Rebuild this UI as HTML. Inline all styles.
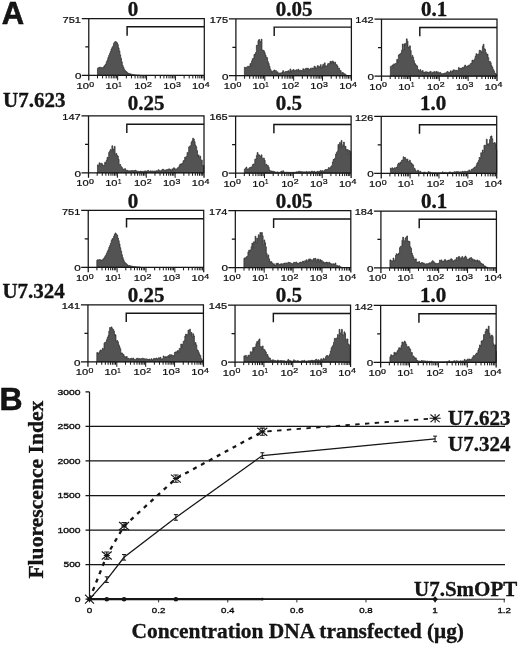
<!DOCTYPE html>
<html><head><meta charset="utf-8"><title>Figure</title>
<style>html,body{margin:0;padding:0;background:#fff}svg{display:block}text{fill:#141414}</style>
</head><body>
<svg width="520" height="646" viewBox="0 0 520 646">
<defs><filter id="soft" x="0" y="0" width="520" height="646" filterUnits="userSpaceOnUse"><feGaussianBlur stdDeviation="0.4"/></filter></defs>
<rect width="520" height="646" fill="#fff"/>
<g filter="url(#soft)">
<path d="M97.48,75.4V68.32H98.28V67.71H99.08V67.28H99.88V67.31H100.68V67.52H101.48V67.85H102.28V67.77H103.08V67.16H103.88V66.1H104.68V65.14H105.48V64.05H106.28V61.79H107.08V59.98H107.88V57.48H108.68V55.38H109.48V53.49H110.28V51.52H111.08V48.94H111.88V47.42H112.68V46.15H113.48V43.43H114.28V42.14H115.08V41.53H115.88V41.99H116.68V42.75H117.48V44.42H118.28V47.85H119.08V50.93H119.88V54.76H120.68V58.24H121.48V61.76H122.28V65.28H123.08V67.28H123.88V69.17H124.68V70.59H125.48V71.36H126.28V71.85H127.08V72.87H127.88V73.26H128.68V73.59H129.48V73.65H130.28V74.01H131.08V74.19H131.88V74.44H132.68V74.57H133.48V74.77H134.28V74.84H135.08V74.92H135.88V75H136.68V75.08H137.48V75.16H138.28V75.24H139.08V75.32H139.88V75.4H140.68V75.4Z" fill="#525252" stroke="#2a2a2a" stroke-width="0.7" stroke-linejoin="round"/>
<path d="M81.8,18.5H204.3V80.4M88.8,18.5V80.4M81.8,75.4H204.3M85.3,46.95H88.8" fill="none" stroke="#141414" stroke-width="1.25"/>
<path d="M127.1,35.7V26.8H204.3" fill="none" stroke="#141414" stroke-width="1.45"/>
<path d="M97.49,75.4v3M102.58,75.4v3M106.18,75.4v3M108.98,75.4v3M111.27,75.4v3M113.2,75.4v3M114.88,75.4v3M116.35,75.4v3M117.67,75.4v5M126.37,75.4v3M131.45,75.4v3M135.06,75.4v3M137.86,75.4v3M140.14,75.4v3M142.08,75.4v3M143.75,75.4v3M145.23,75.4v3M146.55,75.4v5M155.24,75.4v3M160.33,75.4v3M163.93,75.4v3M166.73,75.4v3M169.02,75.4v3M170.95,75.4v3M172.63,75.4v3M174.1,75.4v3M175.43,75.4v5M184.12,75.4v3M189.2,75.4v3M192.81,75.4v3M195.61,75.4v3M197.89,75.4v3M199.83,75.4v3M201.5,75.4v3M202.98,75.4v3" stroke="#141414" stroke-width="1" fill="none"/>
<text x="89" y="88.95" font-family='"Liberation Sans", sans-serif' font-size="9.8" text-anchor="end" textLength="12.4" lengthAdjust="spacingAndGlyphs" fill="#000" stroke="#000" stroke-width="0.22">10</text>
<text x="89.3" y="86.7" font-family='"Liberation Sans", sans-serif' font-size="7.0" text-anchor="start" textLength="4.9" lengthAdjust="spacingAndGlyphs" fill="#000" stroke="#000" stroke-width="0.22">0</text>
<text x="117.88" y="88.95" font-family='"Liberation Sans", sans-serif' font-size="9.8" text-anchor="end" textLength="12.4" lengthAdjust="spacingAndGlyphs" fill="#000" stroke="#000" stroke-width="0.22">10</text>
<text x="118.17" y="86.7" font-family='"Liberation Sans", sans-serif' font-size="7.0" text-anchor="start" textLength="3.4" lengthAdjust="spacingAndGlyphs" fill="#000" stroke="#000" stroke-width="0.22">1</text>
<text x="146.75" y="88.95" font-family='"Liberation Sans", sans-serif' font-size="9.8" text-anchor="end" textLength="12.4" lengthAdjust="spacingAndGlyphs" fill="#000" stroke="#000" stroke-width="0.22">10</text>
<text x="147.05" y="86.7" font-family='"Liberation Sans", sans-serif' font-size="7.0" text-anchor="start" textLength="4.9" lengthAdjust="spacingAndGlyphs" fill="#000" stroke="#000" stroke-width="0.22">2</text>
<text x="175.62" y="88.95" font-family='"Liberation Sans", sans-serif' font-size="9.8" text-anchor="end" textLength="12.4" lengthAdjust="spacingAndGlyphs" fill="#000" stroke="#000" stroke-width="0.22">10</text>
<text x="175.93" y="86.7" font-family='"Liberation Sans", sans-serif' font-size="7.0" text-anchor="start" textLength="4.9" lengthAdjust="spacingAndGlyphs" fill="#000" stroke="#000" stroke-width="0.22">3</text>
<text x="204.5" y="88.95" font-family='"Liberation Sans", sans-serif' font-size="9.8" text-anchor="end" textLength="12.4" lengthAdjust="spacingAndGlyphs" fill="#000" stroke="#000" stroke-width="0.22">10</text>
<text x="204.8" y="86.7" font-family='"Liberation Sans", sans-serif' font-size="7.0" text-anchor="start" textLength="4.9" lengthAdjust="spacingAndGlyphs" fill="#000" stroke="#000" stroke-width="0.22">4</text>
<text x="80.9" y="22.7" font-family='"Liberation Sans", sans-serif' font-size="9.6" text-anchor="end" textLength="18.3" lengthAdjust="spacingAndGlyphs" fill="#000" stroke="#000" stroke-width="0.22">751</text>
<text x="81.4" y="79.2" font-family='"Liberation Sans", sans-serif' font-size="9.8" text-anchor="end" textLength="6.5" lengthAdjust="spacingAndGlyphs" fill="#000" stroke="#000" stroke-width="0.22">0</text>
<text x="127.8" y="15.85" font-family='"Liberation Serif", serif' font-weight="bold" font-size="21" stroke="#000" stroke-width="0.3" fill="#000">0</text>
<path d="M244.37,75.72V67.23H245.17V67.72H245.97V67.24H246.77V67.24H247.57V66.3H248.37V66.33H249.17V66.63H249.97V63.51H250.77V65.93H251.57V60.87H252.37V58.67H253.17V58.22H253.97V54.55H254.77V54.04H255.57V52.44H256.37V45.21H257.17V45.45H257.97V40.61H258.77V39.51H259.57V41.15H260.37V42.48H261.17V39.16H261.97V49.97H262.77V50.34H263.57V50.77H264.37V52.6H265.17V55H265.97V57.15H266.77V57.71H267.57V61.57H268.37V63.52H269.17V66.21H269.97V69.11H270.77V70.77H271.57V73.05H272.37V71.28H273.17V70.86H273.97V69.96H274.77V71.38H275.57V70.58H276.37V72.85H277.17V71.83H277.97V73.25H278.77V73.16H279.57V73.06H280.37V72.99H281.17V73.14H281.97V72.08H282.77V70.66H283.57V72.38H284.37V72.19H285.17V71.62H285.97V71.56H286.77V71.39H287.57V71.05H288.37V70.73H289.17V72.09H289.97V68.96H290.77V71.93H291.57V70.59H292.37V70.3H293.17V69.44H293.97V70.97H294.77V70.41H295.57V70.37H296.37V69.71H297.17V70.8H297.97V69.19H298.77V71.49H299.57V70.2H300.37V70.31H301.17V70.62H301.97V70.73H302.77V68.73H303.57V69.29H304.37V71.46H305.17V68.67H305.97V68.25H306.77V70.17H307.57V68.08H308.37V69.99H309.17V69.47H309.97V68.56H310.77V68.14H311.57V68.13H312.37V68.04H313.17V68.69H313.97V66.22H314.77V66.75H315.57V67.88H316.37V67.99H317.17V65.69H317.97V65.91H318.77V67.02H319.57V66.7H320.37V64.68H321.17V68.04H321.97V66.52H322.77V64.34H323.57V66.8H324.37V62.86H325.17V65.96H325.97V66.47H326.77V65.54H327.57V63.77H328.37V63.44H329.17V63.85H329.97V61.31H330.77V63.1H331.57V61.51H332.37V60.95H333.17V62.07H333.97V64.23H334.77V62.08H335.57V64.41H336.37V64.72H337.17V65.95H337.97V68.69H338.77V68.08H339.57V70.59H340.37V70.61H341.17V73.15H341.97V72.49H342.77V72.77H343.57V74.31H344.37V73.69H345.17V74.76H345.97V75.09H346.77V75.48H347.57V75.72H348.37V75.72Z" fill="#525252" stroke="#2a2a2a" stroke-width="0.7" stroke-linejoin="round"/>
<path d="M228.9,18.82H351.4V80.72M235.9,18.82V80.72M228.9,75.72H351.4M232.4,47.27H235.9" fill="none" stroke="#141414" stroke-width="1.25"/>
<path d="M274.2,36.02V27.12H351.4" fill="none" stroke="#141414" stroke-width="1.45"/>
<path d="M244.59,75.72v3M249.68,75.72v3M253.28,75.72v3M256.08,75.72v3M258.37,75.72v3M260.3,75.72v3M261.98,75.72v3M263.45,75.72v3M264.77,75.72v5M273.47,75.72v3M278.55,75.72v3M282.16,75.72v3M284.96,75.72v3M287.24,75.72v3M289.18,75.72v3M290.85,75.72v3M292.33,75.72v3M293.65,75.72v5M302.34,75.72v3M307.43,75.72v3M311.03,75.72v3M313.83,75.72v3M316.12,75.72v3M318.05,75.72v3M319.73,75.72v3M321.2,75.72v3M322.52,75.72v5M331.22,75.72v3M336.3,75.72v3M339.91,75.72v3M342.71,75.72v3M344.99,75.72v3M346.93,75.72v3M348.6,75.72v3M350.08,75.72v3" stroke="#141414" stroke-width="1" fill="none"/>
<text x="236.1" y="89.27" font-family='"Liberation Sans", sans-serif' font-size="9.8" text-anchor="end" textLength="12.4" lengthAdjust="spacingAndGlyphs" fill="#000" stroke="#000" stroke-width="0.22">10</text>
<text x="236.4" y="87.02" font-family='"Liberation Sans", sans-serif' font-size="7.0" text-anchor="start" textLength="4.9" lengthAdjust="spacingAndGlyphs" fill="#000" stroke="#000" stroke-width="0.22">0</text>
<text x="264.97" y="89.27" font-family='"Liberation Sans", sans-serif' font-size="9.8" text-anchor="end" textLength="12.4" lengthAdjust="spacingAndGlyphs" fill="#000" stroke="#000" stroke-width="0.22">10</text>
<text x="265.27" y="87.02" font-family='"Liberation Sans", sans-serif' font-size="7.0" text-anchor="start" textLength="3.4" lengthAdjust="spacingAndGlyphs" fill="#000" stroke="#000" stroke-width="0.22">1</text>
<text x="293.85" y="89.27" font-family='"Liberation Sans", sans-serif' font-size="9.8" text-anchor="end" textLength="12.4" lengthAdjust="spacingAndGlyphs" fill="#000" stroke="#000" stroke-width="0.22">10</text>
<text x="294.15" y="87.02" font-family='"Liberation Sans", sans-serif' font-size="7.0" text-anchor="start" textLength="4.9" lengthAdjust="spacingAndGlyphs" fill="#000" stroke="#000" stroke-width="0.22">2</text>
<text x="322.72" y="89.27" font-family='"Liberation Sans", sans-serif' font-size="9.8" text-anchor="end" textLength="12.4" lengthAdjust="spacingAndGlyphs" fill="#000" stroke="#000" stroke-width="0.22">10</text>
<text x="323.02" y="87.02" font-family='"Liberation Sans", sans-serif' font-size="7.0" text-anchor="start" textLength="4.9" lengthAdjust="spacingAndGlyphs" fill="#000" stroke="#000" stroke-width="0.22">3</text>
<text x="351.6" y="89.27" font-family='"Liberation Sans", sans-serif' font-size="9.8" text-anchor="end" textLength="12.4" lengthAdjust="spacingAndGlyphs" fill="#000" stroke="#000" stroke-width="0.22">10</text>
<text x="351.9" y="87.02" font-family='"Liberation Sans", sans-serif' font-size="7.0" text-anchor="start" textLength="4.9" lengthAdjust="spacingAndGlyphs" fill="#000" stroke="#000" stroke-width="0.22">4</text>
<text x="228" y="23.02" font-family='"Liberation Sans", sans-serif' font-size="9.6" text-anchor="end" textLength="18.3" lengthAdjust="spacingAndGlyphs" fill="#000" stroke="#000" stroke-width="0.22">175</text>
<text x="228.5" y="79.52" font-family='"Liberation Sans", sans-serif' font-size="9.8" text-anchor="end" textLength="6.5" lengthAdjust="spacingAndGlyphs" fill="#000" stroke="#000" stroke-width="0.22">0</text>
<text x="275.7" y="15.85" font-family='"Liberation Serif", serif' font-weight="bold" font-size="21" stroke="#000" stroke-width="0.3" fill="#000">0.05</text>
<path d="M390.37,76.04V66.41H391.17V66.48H391.97V64.97H392.77V67.28H393.57V63.91H394.37V64.19H395.17V63.52H395.97V63.54H396.77V59.37H397.57V62.05H398.37V55.1H399.17V54.33H399.97V53.92H400.77V52.89H401.57V50.2H402.37V44.03H403.17V49.77H403.97V43.81H404.77V45.51H405.57V43.27H406.37V38.83H407.17V41.24H407.97V47.09H408.77V48.23H409.57V45.84H410.37V50.55H411.17V57.74H411.97V55.39H412.77V57.3H413.57V60.5H414.37V63.14H415.17V64.26H415.97V65.49H416.77V65.94H417.57V69.33H418.37V69.97H419.17V71.77H419.97V69.6H420.77V71.24H421.57V72.29H422.37V70.52H423.17V72.61H423.97V72.13H424.77V73.09H425.57V71.64H426.37V72.21H427.17V72.02H427.97V72.81H428.77V72.33H429.57V71.84H430.37V71.41H431.17V73.21H431.97V72.69H432.77V71.88H433.57V72.42H434.37V71.61H435.17V73.14H435.97V71.51H436.77V73.45H437.57V71.83H438.37V72.79H439.17V72.73H439.97V72.46H440.77V73.47H441.57V73.73H442.37V73.69H443.17V73.6H443.97V73.19H444.77V73.06H445.57V73.05H446.37V72.17H447.17V71.52H447.97V72.16H448.77V72.84H449.57V72.22H450.37V70.87H451.17V72.76H451.97V71.11H452.77V70.54H453.57V69.73H454.37V71.15H455.17V70.4H455.97V70.19H456.77V70.76H457.57V70.56H458.37V67.59H459.17V68.43H459.97V68.22H460.77V69.23H461.57V68.06H462.37V67.37H463.17V67.98H463.97V66.45H464.77V65.03H465.57V67.44H466.37V66.54H467.17V65.9H467.97V66.08H468.77V64.91H469.57V65.13H470.37V63.6H471.17V63.19H471.97V60.11H472.77V60.4H473.57V60.86H474.37V58.91H475.17V56.24H475.97V53.71H476.77V58.38H477.57V54.34H478.37V53.92H479.17V50.27H479.97V50.43H480.77V51.14H481.57V52.87H482.37V46.38H483.17V44.2H483.97V48.68H484.77V49.35H485.57V52.52H486.37V54.48H487.17V54.09H487.97V57.71H488.77V61.69H489.57V61.35H490.37V62.63H491.17V65.5H491.97V67.08H492.77V69.23H493.57V70.75H494.37V73.16H495.17V73.35H495.97V74.65H496.77V76.04Z" fill="#525252" stroke="#2a2a2a" stroke-width="0.7" stroke-linejoin="round"/>
<path d="M374.5,19.14H497V81.04M381.5,19.14V81.04M374.5,76.04H497M378,47.59H381.5" fill="none" stroke="#141414" stroke-width="1.25"/>
<path d="M419.8,36.34V27.44H497" fill="none" stroke="#141414" stroke-width="1.45"/>
<path d="M390.19,76.04v3M395.28,76.04v3M398.88,76.04v3M401.68,76.04v3M403.97,76.04v3M405.9,76.04v3M407.58,76.04v3M409.05,76.04v3M410.38,76.04v5M419.07,76.04v3M424.15,76.04v3M427.76,76.04v3M430.56,76.04v3M432.84,76.04v3M434.78,76.04v3M436.45,76.04v3M437.93,76.04v3M439.25,76.04v5M447.94,76.04v3M453.03,76.04v3M456.63,76.04v3M459.43,76.04v3M461.72,76.04v3M463.65,76.04v3M465.33,76.04v3M466.8,76.04v3M468.12,76.04v5M476.82,76.04v3M481.9,76.04v3M485.51,76.04v3M488.31,76.04v3M490.59,76.04v3M492.53,76.04v3M494.2,76.04v3M495.68,76.04v3" stroke="#141414" stroke-width="1" fill="none"/>
<text x="381.7" y="89.59" font-family='"Liberation Sans", sans-serif' font-size="9.8" text-anchor="end" textLength="12.4" lengthAdjust="spacingAndGlyphs" fill="#000" stroke="#000" stroke-width="0.22">10</text>
<text x="382" y="87.34" font-family='"Liberation Sans", sans-serif' font-size="7.0" text-anchor="start" textLength="4.9" lengthAdjust="spacingAndGlyphs" fill="#000" stroke="#000" stroke-width="0.22">0</text>
<text x="410.57" y="89.59" font-family='"Liberation Sans", sans-serif' font-size="9.8" text-anchor="end" textLength="12.4" lengthAdjust="spacingAndGlyphs" fill="#000" stroke="#000" stroke-width="0.22">10</text>
<text x="410.88" y="87.34" font-family='"Liberation Sans", sans-serif' font-size="7.0" text-anchor="start" textLength="3.4" lengthAdjust="spacingAndGlyphs" fill="#000" stroke="#000" stroke-width="0.22">1</text>
<text x="439.45" y="89.59" font-family='"Liberation Sans", sans-serif' font-size="9.8" text-anchor="end" textLength="12.4" lengthAdjust="spacingAndGlyphs" fill="#000" stroke="#000" stroke-width="0.22">10</text>
<text x="439.75" y="87.34" font-family='"Liberation Sans", sans-serif' font-size="7.0" text-anchor="start" textLength="4.9" lengthAdjust="spacingAndGlyphs" fill="#000" stroke="#000" stroke-width="0.22">2</text>
<text x="468.32" y="89.59" font-family='"Liberation Sans", sans-serif' font-size="9.8" text-anchor="end" textLength="12.4" lengthAdjust="spacingAndGlyphs" fill="#000" stroke="#000" stroke-width="0.22">10</text>
<text x="468.62" y="87.34" font-family='"Liberation Sans", sans-serif' font-size="7.0" text-anchor="start" textLength="4.9" lengthAdjust="spacingAndGlyphs" fill="#000" stroke="#000" stroke-width="0.22">3</text>
<text x="497.2" y="89.59" font-family='"Liberation Sans", sans-serif' font-size="9.8" text-anchor="end" textLength="12.4" lengthAdjust="spacingAndGlyphs" fill="#000" stroke="#000" stroke-width="0.22">10</text>
<text x="497.5" y="87.34" font-family='"Liberation Sans", sans-serif' font-size="7.0" text-anchor="start" textLength="4.9" lengthAdjust="spacingAndGlyphs" fill="#000" stroke="#000" stroke-width="0.22">4</text>
<text x="373.6" y="23.34" font-family='"Liberation Sans", sans-serif' font-size="9.6" text-anchor="end" textLength="18.3" lengthAdjust="spacingAndGlyphs" fill="#000" stroke="#000" stroke-width="0.22">142</text>
<text x="374.1" y="79.84" font-family='"Liberation Sans", sans-serif' font-size="9.8" text-anchor="end" textLength="6.5" lengthAdjust="spacingAndGlyphs" fill="#000" stroke="#000" stroke-width="0.22">0</text>
<text x="421" y="15.85" font-family='"Liberation Serif", serif' font-weight="bold" font-size="21" stroke="#000" stroke-width="0.3" fill="#000">0.1</text>
<path d="M97.48,172.75V164.85H98.28V165.95H99.08V162.81H99.88V165.65H100.68V163.27H101.48V163.44H102.28V164.79H103.08V165.38H103.88V165.23H104.68V162.24H105.48V163.07H106.28V160.2H107.08V157.35H107.88V158.03H108.68V152.46H109.48V151.13H110.28V149.4H111.08V150.69H111.88V145.7H112.68V148.88H113.48V152.45H114.28V146.39H115.08V154.98H115.88V153.39H116.68V155.16H117.48V156.05H118.28V159.36H119.08V164.64H119.88V164.39H120.68V166.5H121.48V167.24H122.28V168.68H123.08V169.29H123.88V169.87H124.68V168.59H125.48V169.93H126.28V170.61H127.08V170.34H127.88V170.95H128.68V170.8H129.48V171.23H130.28V170.64H131.08V170.78H131.88V170.46H132.68V170.64H133.48V171.12H134.28V170.56H135.08V170.25H135.88V170.86H136.68V171.31H137.48V171.32H138.28V171.44H139.08V171.72H139.88V171.08H140.68V171.33H141.48V171.35H142.28V171.43H143.08V171.4H143.88V171.32H144.68V170.88H145.48V171.11H146.28V171.34H147.08V170.87H147.88V170.46H148.68V171.82H149.48V171.49H150.28V170.78H151.08V171.49H151.88V170.94H152.68V171.28H153.48V171.13H154.28V171.09H155.08V171.3H155.88V170.64H156.68V171.31H157.48V170.72H158.28V169.68H159.08V170.67H159.88V170.71H160.68V171.3H161.48V170.07H162.28V169.29H163.08V169.38H163.88V170.67H164.68V169.93H165.48V170.97H166.28V169.63H167.08V169.6H167.88V169.15H168.68V168.92H169.48V169.07H170.28V169.82H171.08V170.67H171.88V168.86H172.68V169.92H173.48V167.8H174.28V168.28H175.08V169.31H175.88V169.18H176.68V168.69H177.48V167.76H178.28V167.14H179.08V165.64H179.88V163.97H180.68V164.57H181.48V163.69H182.28V163.1H183.08V160.82H183.88V160.28H184.68V157.13H185.48V159.19H186.28V156.19H187.08V152.44H187.88V152.41H188.68V146.9H189.48V146.24H190.28V145.76H191.08V142.14H191.88V140.82H192.68V138.23H193.48V139.08H194.28V141.63H195.08V145H195.88V146.71H196.68V150.56H197.48V155.82H198.28V154.93H199.08V157.94H199.88V156.18H200.68V160.16H201.48V159.98H202.28V165.49H203.08V165.41H203.88V172.75Z" fill="#525252" stroke="#2a2a2a" stroke-width="0.7" stroke-linejoin="round"/>
<path d="M81.51,115.85H204.01V177.75M88.51,115.85V177.75M81.51,172.75H204.01M85.01,144.3H88.51" fill="none" stroke="#141414" stroke-width="1.25"/>
<path d="M126.81,133.05V124.15H204.01" fill="none" stroke="#141414" stroke-width="1.45"/>
<path d="M97.2,172.75v3M102.28,172.75v3M105.89,172.75v3M108.69,172.75v3M110.98,172.75v3M112.91,172.75v3M114.58,172.75v3M116.06,172.75v3M117.38,172.75v5M126.08,172.75v3M131.16,172.75v3M134.77,172.75v3M137.57,172.75v3M139.85,172.75v3M141.79,172.75v3M143.46,172.75v3M144.94,172.75v3M146.26,172.75v5M154.95,172.75v3M160.03,172.75v3M163.64,172.75v3M166.44,172.75v3M168.73,172.75v3M170.66,172.75v3M172.33,172.75v3M173.81,172.75v3M175.13,172.75v5M183.83,172.75v3M188.91,172.75v3M192.52,172.75v3M195.32,172.75v3M197.6,172.75v3M199.54,172.75v3M201.21,172.75v3M202.69,172.75v3" stroke="#141414" stroke-width="1" fill="none"/>
<text x="88.71" y="186.3" font-family='"Liberation Sans", sans-serif' font-size="9.8" text-anchor="end" textLength="12.4" lengthAdjust="spacingAndGlyphs" fill="#000" stroke="#000" stroke-width="0.22">10</text>
<text x="89.01" y="184.05" font-family='"Liberation Sans", sans-serif' font-size="7.0" text-anchor="start" textLength="4.9" lengthAdjust="spacingAndGlyphs" fill="#000" stroke="#000" stroke-width="0.22">0</text>
<text x="117.58" y="186.3" font-family='"Liberation Sans", sans-serif' font-size="9.8" text-anchor="end" textLength="12.4" lengthAdjust="spacingAndGlyphs" fill="#000" stroke="#000" stroke-width="0.22">10</text>
<text x="117.88" y="184.05" font-family='"Liberation Sans", sans-serif' font-size="7.0" text-anchor="start" textLength="3.4" lengthAdjust="spacingAndGlyphs" fill="#000" stroke="#000" stroke-width="0.22">1</text>
<text x="146.46" y="186.3" font-family='"Liberation Sans", sans-serif' font-size="9.8" text-anchor="end" textLength="12.4" lengthAdjust="spacingAndGlyphs" fill="#000" stroke="#000" stroke-width="0.22">10</text>
<text x="146.76" y="184.05" font-family='"Liberation Sans", sans-serif' font-size="7.0" text-anchor="start" textLength="4.9" lengthAdjust="spacingAndGlyphs" fill="#000" stroke="#000" stroke-width="0.22">2</text>
<text x="175.33" y="186.3" font-family='"Liberation Sans", sans-serif' font-size="9.8" text-anchor="end" textLength="12.4" lengthAdjust="spacingAndGlyphs" fill="#000" stroke="#000" stroke-width="0.22">10</text>
<text x="175.63" y="184.05" font-family='"Liberation Sans", sans-serif' font-size="7.0" text-anchor="start" textLength="4.9" lengthAdjust="spacingAndGlyphs" fill="#000" stroke="#000" stroke-width="0.22">3</text>
<text x="204.21" y="186.3" font-family='"Liberation Sans", sans-serif' font-size="9.8" text-anchor="end" textLength="12.4" lengthAdjust="spacingAndGlyphs" fill="#000" stroke="#000" stroke-width="0.22">10</text>
<text x="204.51" y="184.05" font-family='"Liberation Sans", sans-serif' font-size="7.0" text-anchor="start" textLength="4.9" lengthAdjust="spacingAndGlyphs" fill="#000" stroke="#000" stroke-width="0.22">4</text>
<text x="80.61" y="120.05" font-family='"Liberation Sans", sans-serif' font-size="9.6" text-anchor="end" textLength="18.3" lengthAdjust="spacingAndGlyphs" fill="#000" stroke="#000" stroke-width="0.22">147</text>
<text x="81.11" y="176.55" font-family='"Liberation Sans", sans-serif' font-size="9.8" text-anchor="end" textLength="6.5" lengthAdjust="spacingAndGlyphs" fill="#000" stroke="#000" stroke-width="0.22">0</text>
<text x="127.8" y="110.3" font-family='"Liberation Serif", serif' font-weight="bold" font-size="21" stroke="#000" stroke-width="0.3" fill="#000">0.25</text>
<path d="M244.37,173.07V169.12H245.17V168.62H245.97V167.08H246.77V168.92H247.57V169.34H248.37V168.72H249.17V167.76H249.97V167.22H250.77V167.8H251.57V166.66H252.37V164.67H253.17V163.99H253.97V164.13H254.77V159.22H255.57V158.98H256.37V155.57H257.17V152.49H257.97V154.4H258.77V154.88H259.57V156.42H260.37V156.04H261.17V154.86H261.97V158.25H262.77V158.16H263.57V158.14H264.37V160.34H265.17V165.25H265.97V164.13H266.77V165.5H267.57V165.49H268.37V167.3H269.17V169.89H269.97V171H270.77V171.01H271.57V170.98H272.37V171.72H273.17V171.27H273.97V171.64H274.77V172.43H275.57V171.9H276.37V172.47H277.17V171.89H277.97V172.4H278.77V172.46H279.57V172.4H280.37V171.87H281.17V171.21H281.97V172.06H282.77V170.71H283.57V172.44H284.37V172.07H285.17V172.37H285.97V172.29H286.77V172.31H287.57V172.34H288.37V172.36H289.17V172.38H289.97V172.4H290.77V172.4H291.57V172.38H292.37V172.36H293.17V172.35H293.97V172.33H294.77V172.31H295.57V172.29H296.37V171.78H297.17V172.28H297.97V171.43H298.77V172.28H299.57V171.27H300.37V171.65H301.17V171.84H301.97V171.75H302.77V172.18H303.57V171.82H304.37V172.08H305.17V172H305.97V171.38H306.77V171.98H307.57V172.14H308.37V171.66H309.17V171.67H309.97V171.98H310.77V171.85H311.57V170.95H312.37V171.65H313.17V171.72H313.97V171.26H314.77V172.1H315.57V171.99H316.37V171.88H317.17V171.26H317.97V172.36H318.77V171.13H319.57V171.47H320.37V170.44H321.17V171.37H321.97V170.64H322.77V171.55H323.57V171.02H324.37V170.29H325.17V169.56H325.97V169.62H326.77V169.5H327.57V169.18H328.37V167.62H329.17V168.24H329.97V167.69H330.77V166.42H331.57V165.67H332.37V161.98H333.17V159.48H333.97V159.01H334.77V158.17H335.57V154.1H336.37V152.53H337.17V151.22H337.97V144.51H338.77V147.54H339.57V142.55H340.37V147.36H341.17V140.47H341.97V146.66H342.77V144.71H343.57V142.11H344.37V146.36H345.17V146.32H345.97V149.79H346.77V149.52H347.57V149.8H348.37V153.99H349.17V150.62H349.97V151.41H350.77V173.07Z" fill="#525252" stroke="#2a2a2a" stroke-width="0.7" stroke-linejoin="round"/>
<path d="M228.61,116.17H351.11V178.07M235.61,116.17V178.07M228.61,173.07H351.11M232.11,144.62H235.61" fill="none" stroke="#141414" stroke-width="1.25"/>
<path d="M273.91,133.37V124.47H351.11" fill="none" stroke="#141414" stroke-width="1.45"/>
<path d="M244.3,173.07v3M249.38,173.07v3M252.99,173.07v3M255.79,173.07v3M258.08,173.07v3M260.01,173.07v3M261.68,173.07v3M263.16,173.07v3M264.48,173.07v5M273.18,173.07v3M278.26,173.07v3M281.87,173.07v3M284.67,173.07v3M286.95,173.07v3M288.89,173.07v3M290.56,173.07v3M292.04,173.07v3M293.36,173.07v5M302.05,173.07v3M307.13,173.07v3M310.74,173.07v3M313.54,173.07v3M315.83,173.07v3M317.76,173.07v3M319.43,173.07v3M320.91,173.07v3M322.23,173.07v5M330.93,173.07v3M336.01,173.07v3M339.62,173.07v3M342.42,173.07v3M344.7,173.07v3M346.64,173.07v3M348.31,173.07v3M349.79,173.07v3" stroke="#141414" stroke-width="1" fill="none"/>
<text x="235.81" y="186.62" font-family='"Liberation Sans", sans-serif' font-size="9.8" text-anchor="end" textLength="12.4" lengthAdjust="spacingAndGlyphs" fill="#000" stroke="#000" stroke-width="0.22">10</text>
<text x="236.11" y="184.37" font-family='"Liberation Sans", sans-serif' font-size="7.0" text-anchor="start" textLength="4.9" lengthAdjust="spacingAndGlyphs" fill="#000" stroke="#000" stroke-width="0.22">0</text>
<text x="264.68" y="186.62" font-family='"Liberation Sans", sans-serif' font-size="9.8" text-anchor="end" textLength="12.4" lengthAdjust="spacingAndGlyphs" fill="#000" stroke="#000" stroke-width="0.22">10</text>
<text x="264.98" y="184.37" font-family='"Liberation Sans", sans-serif' font-size="7.0" text-anchor="start" textLength="3.4" lengthAdjust="spacingAndGlyphs" fill="#000" stroke="#000" stroke-width="0.22">1</text>
<text x="293.56" y="186.62" font-family='"Liberation Sans", sans-serif' font-size="9.8" text-anchor="end" textLength="12.4" lengthAdjust="spacingAndGlyphs" fill="#000" stroke="#000" stroke-width="0.22">10</text>
<text x="293.86" y="184.37" font-family='"Liberation Sans", sans-serif' font-size="7.0" text-anchor="start" textLength="4.9" lengthAdjust="spacingAndGlyphs" fill="#000" stroke="#000" stroke-width="0.22">2</text>
<text x="322.43" y="186.62" font-family='"Liberation Sans", sans-serif' font-size="9.8" text-anchor="end" textLength="12.4" lengthAdjust="spacingAndGlyphs" fill="#000" stroke="#000" stroke-width="0.22">10</text>
<text x="322.73" y="184.37" font-family='"Liberation Sans", sans-serif' font-size="7.0" text-anchor="start" textLength="4.9" lengthAdjust="spacingAndGlyphs" fill="#000" stroke="#000" stroke-width="0.22">3</text>
<text x="351.31" y="186.62" font-family='"Liberation Sans", sans-serif' font-size="9.8" text-anchor="end" textLength="12.4" lengthAdjust="spacingAndGlyphs" fill="#000" stroke="#000" stroke-width="0.22">10</text>
<text x="351.61" y="184.37" font-family='"Liberation Sans", sans-serif' font-size="7.0" text-anchor="start" textLength="4.9" lengthAdjust="spacingAndGlyphs" fill="#000" stroke="#000" stroke-width="0.22">4</text>
<text x="227.71" y="120.37" font-family='"Liberation Sans", sans-serif' font-size="9.6" text-anchor="end" textLength="18.3" lengthAdjust="spacingAndGlyphs" fill="#000" stroke="#000" stroke-width="0.22">165</text>
<text x="228.21" y="176.87" font-family='"Liberation Sans", sans-serif' font-size="9.8" text-anchor="end" textLength="6.5" lengthAdjust="spacingAndGlyphs" fill="#000" stroke="#000" stroke-width="0.22">0</text>
<text x="275.7" y="110.3" font-family='"Liberation Serif", serif' font-weight="bold" font-size="21" stroke="#000" stroke-width="0.3" fill="#000">0.5</text>
<path d="M390.37,173.39V167.99H391.17V169.6H391.97V167.83H392.77V168.63H393.57V168.58H394.37V167.74H395.17V168.4H395.97V167.3H396.77V166.93H397.57V164.38H398.37V163.1H399.17V164.12H399.97V162.05H400.77V162.46H401.57V160.2H402.37V160.03H403.17V156.84H403.97V157.53H404.77V157.62H405.57V158.92H406.37V161.53H407.17V159.16H407.97V161.43H408.77V161.53H409.57V160.24H410.37V163.02H411.17V163.01H411.97V164.38H412.77V164.93H413.57V168.13H414.37V168.6H415.17V170.23H415.97V171.38H416.77V171.69H417.57V170.21H418.37V170.95H419.17V172.5H419.97V171.35H420.77V172.68H421.57V172.49H422.37V172.41H423.17V172.32H423.97V172.11H424.77V172.28H425.57V172.73H426.37V172.68H427.17V172.66H427.97V171.62H428.77V172.49H429.57V171.88H430.37V172.83H431.17V172.74H431.97V172.61H432.77V172.63H433.57V172.66H434.37V172.68H435.17V172.7H435.97V172.72H436.77V172.72H437.57V172.7H438.37V172.69H439.17V172.67H439.97V172.65H440.77V172.63H441.57V172.61H442.37V171.86H443.17V172.87H443.97V172.6H444.77V172.46H445.57V172.38H446.37V172.87H447.17V172.7H447.97V172.63H448.77V172.14H449.57V171.91H450.37V172.31H451.17V172.53H451.97V172.56H452.77V172.29H453.57V172.38H454.37V171.64H455.17V172.34H455.97V171.79H456.77V171.54H457.57V171.8H458.37V171.81H459.17V172.24H459.97V171.87H460.77V172.26H461.57V171.75H462.37V171.3H463.17V171.92H463.97V171.42H464.77V171.3H465.57V172H466.37V171.46H467.17V171.08H467.97V171.42H468.77V169.9H469.57V170.92H470.37V170.92H471.17V169.33H471.97V169.31H472.77V168.66H473.57V167.93H474.37V167.04H475.17V167.18H475.97V165.48H476.77V163.32H477.57V162.36H478.37V160.53H479.17V157.52H479.97V158.03H480.77V152.74H481.57V153.66H482.37V150H483.17V152.64H483.97V145.26H484.77V145.23H485.57V146.42H486.37V139.18H487.17V143.97H487.97V145.1H488.77V143.33H489.57V139.48H490.37V136.53H491.17V135.92H491.97V138.79H492.77V143.5H493.57V143H494.37V142.5H495.17V143.71H495.97V149.88H496.77V173.39Z" fill="#525252" stroke="#2a2a2a" stroke-width="0.7" stroke-linejoin="round"/>
<path d="M374.21,116.49H496.71V178.39M381.21,116.49V178.39M374.21,173.39H496.71M377.71,144.94H381.21" fill="none" stroke="#141414" stroke-width="1.25"/>
<path d="M419.51,133.69V124.79H496.71" fill="none" stroke="#141414" stroke-width="1.45"/>
<path d="M389.9,173.39v3M394.98,173.39v3M398.59,173.39v3M401.39,173.39v3M403.68,173.39v3M405.61,173.39v3M407.28,173.39v3M408.76,173.39v3M410.08,173.39v5M418.78,173.39v3M423.86,173.39v3M427.47,173.39v3M430.27,173.39v3M432.55,173.39v3M434.49,173.39v3M436.16,173.39v3M437.64,173.39v3M438.96,173.39v5M447.65,173.39v3M452.73,173.39v3M456.34,173.39v3M459.14,173.39v3M461.43,173.39v3M463.36,173.39v3M465.03,173.39v3M466.51,173.39v3M467.83,173.39v5M476.53,173.39v3M481.61,173.39v3M485.22,173.39v3M488.02,173.39v3M490.3,173.39v3M492.24,173.39v3M493.91,173.39v3M495.39,173.39v3" stroke="#141414" stroke-width="1" fill="none"/>
<text x="381.41" y="186.94" font-family='"Liberation Sans", sans-serif' font-size="9.8" text-anchor="end" textLength="12.4" lengthAdjust="spacingAndGlyphs" fill="#000" stroke="#000" stroke-width="0.22">10</text>
<text x="381.71" y="184.69" font-family='"Liberation Sans", sans-serif' font-size="7.0" text-anchor="start" textLength="4.9" lengthAdjust="spacingAndGlyphs" fill="#000" stroke="#000" stroke-width="0.22">0</text>
<text x="410.28" y="186.94" font-family='"Liberation Sans", sans-serif' font-size="9.8" text-anchor="end" textLength="12.4" lengthAdjust="spacingAndGlyphs" fill="#000" stroke="#000" stroke-width="0.22">10</text>
<text x="410.58" y="184.69" font-family='"Liberation Sans", sans-serif' font-size="7.0" text-anchor="start" textLength="3.4" lengthAdjust="spacingAndGlyphs" fill="#000" stroke="#000" stroke-width="0.22">1</text>
<text x="439.16" y="186.94" font-family='"Liberation Sans", sans-serif' font-size="9.8" text-anchor="end" textLength="12.4" lengthAdjust="spacingAndGlyphs" fill="#000" stroke="#000" stroke-width="0.22">10</text>
<text x="439.46" y="184.69" font-family='"Liberation Sans", sans-serif' font-size="7.0" text-anchor="start" textLength="4.9" lengthAdjust="spacingAndGlyphs" fill="#000" stroke="#000" stroke-width="0.22">2</text>
<text x="468.03" y="186.94" font-family='"Liberation Sans", sans-serif' font-size="9.8" text-anchor="end" textLength="12.4" lengthAdjust="spacingAndGlyphs" fill="#000" stroke="#000" stroke-width="0.22">10</text>
<text x="468.33" y="184.69" font-family='"Liberation Sans", sans-serif' font-size="7.0" text-anchor="start" textLength="4.9" lengthAdjust="spacingAndGlyphs" fill="#000" stroke="#000" stroke-width="0.22">3</text>
<text x="496.91" y="186.94" font-family='"Liberation Sans", sans-serif' font-size="9.8" text-anchor="end" textLength="12.4" lengthAdjust="spacingAndGlyphs" fill="#000" stroke="#000" stroke-width="0.22">10</text>
<text x="497.21" y="184.69" font-family='"Liberation Sans", sans-serif' font-size="7.0" text-anchor="start" textLength="4.9" lengthAdjust="spacingAndGlyphs" fill="#000" stroke="#000" stroke-width="0.22">4</text>
<text x="373.31" y="120.69" font-family='"Liberation Sans", sans-serif' font-size="9.6" text-anchor="end" textLength="18.3" lengthAdjust="spacingAndGlyphs" fill="#000" stroke="#000" stroke-width="0.22">126</text>
<text x="373.81" y="177.19" font-family='"Liberation Sans", sans-serif' font-size="9.8" text-anchor="end" textLength="6.5" lengthAdjust="spacingAndGlyphs" fill="#000" stroke="#000" stroke-width="0.22">0</text>
<text x="420" y="110.3" font-family='"Liberation Serif", serif' font-weight="bold" font-size="21" stroke="#000" stroke-width="0.3" fill="#000">1.0</text>
<path d="M96.81,267.3V260.13H97.61V259.76H98.41V259.97H99.21V259.64H100.01V259.83H100.81V260.12H101.61V260.43H102.41V259.62H103.21V258.69H104.01V257.67H104.81V256.31H105.61V254.99H106.41V253.15H107.21V251.24H108.01V249.63H108.81V247.36H109.61V245.45H110.41V243.32H111.21V240.38H112.01V238.76H112.81V238.23H113.61V236.06H114.41V234.05H115.21V232.96H116.01V234.14H116.81V235.08H117.61V238.03H118.41V240.7H119.21V244.02H120.01V247.73H120.81V251.07H121.61V254.65H122.41V257.61H123.21V259.69H124.01V261.74H124.81V262.77H125.61V263.46H126.41V264.16H127.21V265H128.01V265.44H128.81V265.5H129.61V265.82H130.41V265.91H131.21V266.16H132.01V266.25H132.81V266.54H133.61V266.68H134.41V266.76H135.21V266.84H136.01V266.92H136.81V266.99H137.61V267.07H138.41V267.15H139.21V267.23H140.01V267.3H140.81V267.3Z" fill="#525252" stroke="#2a2a2a" stroke-width="0.7" stroke-linejoin="round"/>
<path d="M81.22,210.4H203.72V272.3M88.22,210.4V272.3M81.22,267.3H203.72M84.72,238.85H88.22" fill="none" stroke="#141414" stroke-width="1.25"/>
<path d="M126.52,227.6V218.7H203.72" fill="none" stroke="#141414" stroke-width="1.45"/>
<path d="M96.92,267.3v3M102,267.3v3M105.61,267.3v3M108.41,267.3v3M110.69,267.3v3M112.63,267.3v3M114.3,267.3v3M115.78,267.3v3M117.1,267.3v5M125.79,267.3v3M130.88,267.3v3M134.48,267.3v3M137.28,267.3v3M139.57,267.3v3M141.5,267.3v3M143.18,267.3v3M144.65,267.3v3M145.97,267.3v5M154.67,267.3v3M159.75,267.3v3M163.36,267.3v3M166.16,267.3v3M168.44,267.3v3M170.38,267.3v3M172.05,267.3v3M173.53,267.3v3M174.85,267.3v5M183.54,267.3v3M188.63,267.3v3M192.23,267.3v3M195.03,267.3v3M197.32,267.3v3M199.25,267.3v3M200.93,267.3v3M202.4,267.3v3" stroke="#141414" stroke-width="1" fill="none"/>
<text x="88.42" y="280.85" font-family='"Liberation Sans", sans-serif' font-size="9.8" text-anchor="end" textLength="12.4" lengthAdjust="spacingAndGlyphs" fill="#000" stroke="#000" stroke-width="0.22">10</text>
<text x="88.72" y="278.6" font-family='"Liberation Sans", sans-serif' font-size="7.0" text-anchor="start" textLength="4.9" lengthAdjust="spacingAndGlyphs" fill="#000" stroke="#000" stroke-width="0.22">0</text>
<text x="117.3" y="280.85" font-family='"Liberation Sans", sans-serif' font-size="9.8" text-anchor="end" textLength="12.4" lengthAdjust="spacingAndGlyphs" fill="#000" stroke="#000" stroke-width="0.22">10</text>
<text x="117.6" y="278.6" font-family='"Liberation Sans", sans-serif' font-size="7.0" text-anchor="start" textLength="3.4" lengthAdjust="spacingAndGlyphs" fill="#000" stroke="#000" stroke-width="0.22">1</text>
<text x="146.17" y="280.85" font-family='"Liberation Sans", sans-serif' font-size="9.8" text-anchor="end" textLength="12.4" lengthAdjust="spacingAndGlyphs" fill="#000" stroke="#000" stroke-width="0.22">10</text>
<text x="146.47" y="278.6" font-family='"Liberation Sans", sans-serif' font-size="7.0" text-anchor="start" textLength="4.9" lengthAdjust="spacingAndGlyphs" fill="#000" stroke="#000" stroke-width="0.22">2</text>
<text x="175.05" y="280.85" font-family='"Liberation Sans", sans-serif' font-size="9.8" text-anchor="end" textLength="12.4" lengthAdjust="spacingAndGlyphs" fill="#000" stroke="#000" stroke-width="0.22">10</text>
<text x="175.35" y="278.6" font-family='"Liberation Sans", sans-serif' font-size="7.0" text-anchor="start" textLength="4.9" lengthAdjust="spacingAndGlyphs" fill="#000" stroke="#000" stroke-width="0.22">3</text>
<text x="203.92" y="280.85" font-family='"Liberation Sans", sans-serif' font-size="9.8" text-anchor="end" textLength="12.4" lengthAdjust="spacingAndGlyphs" fill="#000" stroke="#000" stroke-width="0.22">10</text>
<text x="204.22" y="278.6" font-family='"Liberation Sans", sans-serif' font-size="7.0" text-anchor="start" textLength="4.9" lengthAdjust="spacingAndGlyphs" fill="#000" stroke="#000" stroke-width="0.22">4</text>
<text x="80.32" y="214.6" font-family='"Liberation Sans", sans-serif' font-size="9.6" text-anchor="end" textLength="18.3" lengthAdjust="spacingAndGlyphs" fill="#000" stroke="#000" stroke-width="0.22">751</text>
<text x="80.82" y="271.1" font-family='"Liberation Sans", sans-serif' font-size="9.8" text-anchor="end" textLength="6.5" lengthAdjust="spacingAndGlyphs" fill="#000" stroke="#000" stroke-width="0.22">0</text>
<text x="127.8" y="208.15" font-family='"Liberation Serif", serif' font-weight="bold" font-size="21" stroke="#000" stroke-width="0.3" fill="#000">0</text>
<path d="M243.92,267.62V258.31H244.72V257.77H245.52V257.82H246.32V256.69H247.12V256.15H247.92V251.95H248.72V250.14H249.52V250.98H250.32V249.77H251.12V246.67H251.92V243.1H252.72V247.86H253.52V241.83H254.32V241.85H255.12V236.22H255.92V243H256.72V238.25H257.52V238.24H258.32V234.78H259.12V236.47H259.92V232.54H260.72V233.47H261.52V232.46H262.32V235.72H263.12V244.66H263.92V239.91H264.72V242.64H265.52V246.73H266.32V253.42H267.12V256.67H267.92V254.94H268.72V258.75H269.52V261.03H270.32V262.85H271.12V261.74H271.92V263.04H272.72V264.88H273.52V263.72H274.32V265.04H275.12V265.5H275.92V263.48H276.72V264.07H277.52V263.07H278.32V264.16H279.12V264.72H279.92V263.95H280.72V263.97H281.52V263.65H282.32V264.7H283.12V263.68H283.92V263.12H284.72V263.14H285.52V263.1H286.32V263.1H287.12V263.38H287.92V262.2H288.72V262.5H289.52V262.58H290.32V263.19H291.12V263.27H291.92V263.68H292.72V264.05H293.52V262.36H294.32V262.5H295.12V262.4H295.92V262.04H296.72V263.02H297.52V263.81H298.32V263.27H299.12V262.63H299.92V262.08H300.72V263.23H301.52V262.32H302.32V261.25H303.12V261.37H303.92V262.69H304.72V260.63H305.52V261.76H306.32V259.74H307.12V261.9H307.92V260.3H308.72V258.89H309.52V261.37H310.32V259.07H311.12V260.41H311.92V260.85H312.72V259.55H313.52V258.48H314.32V259.02H315.12V258.36H315.92V262.04H316.72V259.64H317.52V259H318.32V259.33H319.12V261.82H319.92V259.62H320.72V261.11H321.52V260.52H322.32V262.9H323.12V261.83H323.92V263.03H324.72V262.53H325.52V262.56H326.32V261.99H327.12V262.61H327.92V264.13H328.72V262.14H329.52V263.04H330.32V263.43H331.12V264.05H331.92V264.13H332.72V263.72H333.52V264.35H334.32V264.08H335.12V263.05H335.92V265.69H336.72V265.44H337.52V265.8H338.32V266.36H339.12V265.83H339.92V266.84H340.72V267.03H341.52V267.34H342.32V267.62Z" fill="#525252" stroke="#2a2a2a" stroke-width="0.7" stroke-linejoin="round"/>
<path d="M228.32,210.72H350.82V272.62M235.32,210.72V272.62M228.32,267.62H350.82M231.82,239.17H235.32" fill="none" stroke="#141414" stroke-width="1.25"/>
<path d="M273.62,227.92V219.02H350.82" fill="none" stroke="#141414" stroke-width="1.45"/>
<path d="M244.02,267.62v3M249.1,267.62v3M252.71,267.62v3M255.51,267.62v3M257.79,267.62v3M259.73,267.62v3M261.4,267.62v3M262.88,267.62v3M264.2,267.62v5M272.89,267.62v3M277.98,267.62v3M281.58,267.62v3M284.38,267.62v3M286.67,267.62v3M288.6,267.62v3M290.28,267.62v3M291.75,267.62v3M293.07,267.62v5M301.77,267.62v3M306.85,267.62v3M310.46,267.62v3M313.26,267.62v3M315.54,267.62v3M317.48,267.62v3M319.15,267.62v3M320.63,267.62v3M321.95,267.62v5M330.64,267.62v3M335.73,267.62v3M339.33,267.62v3M342.13,267.62v3M344.42,267.62v3M346.35,267.62v3M348.03,267.62v3M349.5,267.62v3" stroke="#141414" stroke-width="1" fill="none"/>
<text x="235.52" y="281.17" font-family='"Liberation Sans", sans-serif' font-size="9.8" text-anchor="end" textLength="12.4" lengthAdjust="spacingAndGlyphs" fill="#000" stroke="#000" stroke-width="0.22">10</text>
<text x="235.82" y="278.92" font-family='"Liberation Sans", sans-serif' font-size="7.0" text-anchor="start" textLength="4.9" lengthAdjust="spacingAndGlyphs" fill="#000" stroke="#000" stroke-width="0.22">0</text>
<text x="264.4" y="281.17" font-family='"Liberation Sans", sans-serif' font-size="9.8" text-anchor="end" textLength="12.4" lengthAdjust="spacingAndGlyphs" fill="#000" stroke="#000" stroke-width="0.22">10</text>
<text x="264.7" y="278.92" font-family='"Liberation Sans", sans-serif' font-size="7.0" text-anchor="start" textLength="3.4" lengthAdjust="spacingAndGlyphs" fill="#000" stroke="#000" stroke-width="0.22">1</text>
<text x="293.27" y="281.17" font-family='"Liberation Sans", sans-serif' font-size="9.8" text-anchor="end" textLength="12.4" lengthAdjust="spacingAndGlyphs" fill="#000" stroke="#000" stroke-width="0.22">10</text>
<text x="293.57" y="278.92" font-family='"Liberation Sans", sans-serif' font-size="7.0" text-anchor="start" textLength="4.9" lengthAdjust="spacingAndGlyphs" fill="#000" stroke="#000" stroke-width="0.22">2</text>
<text x="322.15" y="281.17" font-family='"Liberation Sans", sans-serif' font-size="9.8" text-anchor="end" textLength="12.4" lengthAdjust="spacingAndGlyphs" fill="#000" stroke="#000" stroke-width="0.22">10</text>
<text x="322.45" y="278.92" font-family='"Liberation Sans", sans-serif' font-size="7.0" text-anchor="start" textLength="4.9" lengthAdjust="spacingAndGlyphs" fill="#000" stroke="#000" stroke-width="0.22">3</text>
<text x="351.02" y="281.17" font-family='"Liberation Sans", sans-serif' font-size="9.8" text-anchor="end" textLength="12.4" lengthAdjust="spacingAndGlyphs" fill="#000" stroke="#000" stroke-width="0.22">10</text>
<text x="351.32" y="278.92" font-family='"Liberation Sans", sans-serif' font-size="7.0" text-anchor="start" textLength="4.9" lengthAdjust="spacingAndGlyphs" fill="#000" stroke="#000" stroke-width="0.22">4</text>
<text x="227.42" y="214.92" font-family='"Liberation Sans", sans-serif' font-size="9.6" text-anchor="end" textLength="18.3" lengthAdjust="spacingAndGlyphs" fill="#000" stroke="#000" stroke-width="0.22">174</text>
<text x="227.92" y="271.42" font-family='"Liberation Sans", sans-serif' font-size="9.8" text-anchor="end" textLength="6.5" lengthAdjust="spacingAndGlyphs" fill="#000" stroke="#000" stroke-width="0.22">0</text>
<text x="275.7" y="208.15" font-family='"Liberation Serif", serif' font-weight="bold" font-size="21" stroke="#000" stroke-width="0.3" fill="#000">0.05</text>
<path d="M389.92,267.94V259.87H390.72V261.14H391.52V260.65H392.32V261.45H393.12V258.04H393.92V261.22H394.72V259.96H395.52V255.29H396.32V253.65H397.12V254.84H397.92V254.06H398.72V252.9H399.52V247.65H400.32V246.35H401.12V246.2H401.92V240.49H402.72V237.15H403.52V240.52H404.32V241.75H405.12V238.04H405.92V237.25H406.72V235.95H407.52V241.05H408.32V241.12H409.12V241.6H409.92V246.82H410.72V248.25H411.52V253.08H412.32V255.25H413.12V257.15H413.92V259.21H414.72V259.93H415.52V258.87H416.32V262.34H417.12V262.1H417.92V262.59H418.72V261.5H419.52V263H420.32V263.61H421.12V262.55H421.92V262.57H422.72V263.29H423.52V262.99H424.32V264.66H425.12V263.94H425.92V263.79H426.72V263.72H427.52V264.01H428.32V263.52H429.12V262.82H429.92V263.51H430.72V262.59H431.52V261.65H432.32V260.64H433.12V261.7H433.92V262.13H434.72V263.81H435.52V263.24H436.32V263.72H437.12V263.54H437.92V263.37H438.72V263.15H439.52V260.14H440.32V261.42H441.12V259.88H441.92V261.6H442.72V261.32H443.52V261.1H444.32V259.67H445.12V259.82H445.92V261.4H446.72V260.82H447.52V260.55H448.32V260.06H449.12V260.28H449.92V259.67H450.72V258.78H451.52V259.27H452.32V260.92H453.12V260.86H453.92V260.62H454.72V259.7H455.52V260.21H456.32V257.58H457.12V260.46H457.92V257.02H458.72V256.41H459.52V257.63H460.32V259.66H461.12V257.72H461.92V256.48H462.72V258.19H463.52V258.07H464.32V257.22H465.12V256.07H465.92V257.49H466.72V259.36H467.52V259.83H468.32V259.23H469.12V258.13H469.92V258.4H470.72V257.45H471.52V261.43H472.32V258.84H473.12V260.7H473.92V259.63H474.72V260.96H475.52V260.28H476.32V261.23H477.12V259.93H477.92V261.86H478.72V260.66H479.52V261.65H480.32V263.08H481.12V263.35H481.92V264.08H482.72V264.03H483.52V265.78H484.32V265.86H485.12V266.26H485.92V267.11H486.72V267.29H487.52V267.65H488.32V267.94Z" fill="#525252" stroke="#2a2a2a" stroke-width="0.7" stroke-linejoin="round"/>
<path d="M373.92,211.04H496.42V272.94M380.92,211.04V272.94M373.92,267.94H496.42M377.42,239.49H380.92" fill="none" stroke="#141414" stroke-width="1.25"/>
<path d="M419.22,228.24V219.34H496.42" fill="none" stroke="#141414" stroke-width="1.45"/>
<path d="M389.62,267.94v3M394.7,267.94v3M398.31,267.94v3M401.11,267.94v3M403.39,267.94v3M405.33,267.94v3M407,267.94v3M408.48,267.94v3M409.8,267.94v5M418.49,267.94v3M423.58,267.94v3M427.18,267.94v3M429.98,267.94v3M432.27,267.94v3M434.2,267.94v3M435.88,267.94v3M437.35,267.94v3M438.67,267.94v5M447.37,267.94v3M452.45,267.94v3M456.06,267.94v3M458.86,267.94v3M461.14,267.94v3M463.08,267.94v3M464.75,267.94v3M466.23,267.94v3M467.55,267.94v5M476.24,267.94v3M481.33,267.94v3M484.93,267.94v3M487.73,267.94v3M490.02,267.94v3M491.95,267.94v3M493.63,267.94v3M495.1,267.94v3" stroke="#141414" stroke-width="1" fill="none"/>
<text x="381.12" y="281.49" font-family='"Liberation Sans", sans-serif' font-size="9.8" text-anchor="end" textLength="12.4" lengthAdjust="spacingAndGlyphs" fill="#000" stroke="#000" stroke-width="0.22">10</text>
<text x="381.42" y="279.24" font-family='"Liberation Sans", sans-serif' font-size="7.0" text-anchor="start" textLength="4.9" lengthAdjust="spacingAndGlyphs" fill="#000" stroke="#000" stroke-width="0.22">0</text>
<text x="410" y="281.49" font-family='"Liberation Sans", sans-serif' font-size="9.8" text-anchor="end" textLength="12.4" lengthAdjust="spacingAndGlyphs" fill="#000" stroke="#000" stroke-width="0.22">10</text>
<text x="410.3" y="279.24" font-family='"Liberation Sans", sans-serif' font-size="7.0" text-anchor="start" textLength="3.4" lengthAdjust="spacingAndGlyphs" fill="#000" stroke="#000" stroke-width="0.22">1</text>
<text x="438.87" y="281.49" font-family='"Liberation Sans", sans-serif' font-size="9.8" text-anchor="end" textLength="12.4" lengthAdjust="spacingAndGlyphs" fill="#000" stroke="#000" stroke-width="0.22">10</text>
<text x="439.17" y="279.24" font-family='"Liberation Sans", sans-serif' font-size="7.0" text-anchor="start" textLength="4.9" lengthAdjust="spacingAndGlyphs" fill="#000" stroke="#000" stroke-width="0.22">2</text>
<text x="467.75" y="281.49" font-family='"Liberation Sans", sans-serif' font-size="9.8" text-anchor="end" textLength="12.4" lengthAdjust="spacingAndGlyphs" fill="#000" stroke="#000" stroke-width="0.22">10</text>
<text x="468.05" y="279.24" font-family='"Liberation Sans", sans-serif' font-size="7.0" text-anchor="start" textLength="4.9" lengthAdjust="spacingAndGlyphs" fill="#000" stroke="#000" stroke-width="0.22">3</text>
<text x="496.62" y="281.49" font-family='"Liberation Sans", sans-serif' font-size="9.8" text-anchor="end" textLength="12.4" lengthAdjust="spacingAndGlyphs" fill="#000" stroke="#000" stroke-width="0.22">10</text>
<text x="496.92" y="279.24" font-family='"Liberation Sans", sans-serif' font-size="7.0" text-anchor="start" textLength="4.9" lengthAdjust="spacingAndGlyphs" fill="#000" stroke="#000" stroke-width="0.22">4</text>
<text x="373.02" y="215.24" font-family='"Liberation Sans", sans-serif' font-size="9.6" text-anchor="end" textLength="18.3" lengthAdjust="spacingAndGlyphs" fill="#000" stroke="#000" stroke-width="0.22">184</text>
<text x="373.52" y="271.74" font-family='"Liberation Sans", sans-serif' font-size="9.8" text-anchor="end" textLength="6.5" lengthAdjust="spacingAndGlyphs" fill="#000" stroke="#000" stroke-width="0.22">0</text>
<text x="421" y="208.15" font-family='"Liberation Serif", serif' font-weight="bold" font-size="21" stroke="#000" stroke-width="0.3" fill="#000">0.1</text>
<path d="M96.81,361.75V352.5H97.61V352.94H98.41V353.34H99.21V351.76H100.01V350.02H100.81V350.22H101.61V350.24H102.41V348.21H103.21V349.48H104.01V343.13H104.81V342.13H105.61V343.38H106.41V339.79H107.21V337.48H108.01V335.58H108.81V331.16H109.61V327.53H110.41V327.74H111.21V326.9H112.01V328.66H112.81V329.38H113.61V330.99H114.41V335.11H115.21V334.7H116.01V341.44H116.81V340.45H117.61V341.68H118.41V344.76H119.21V346.6H120.01V348.76H120.81V353.04H121.61V352.93H122.41V354.17H123.21V354.38H124.01V356.35H124.81V356.67H125.61V357.82H126.41V356.47H127.21V358.66H128.01V358.34H128.81V359.13H129.61V358.83H130.41V358.49H131.21V358.16H132.01V359.35H132.81V358.01H133.61V359.35H134.41V359.48H135.21V359.67H136.01V358.68H136.81V358.21H137.61V358.32H138.41V359.49H139.21V358.54H140.01V358.99H140.81V358.78H141.61V358.48H142.41V358.14H143.21V358.83H144.01V358.78H144.81V359.23H145.61V358.77H146.41V359.21H147.21V359.14H148.01V359.83H148.81V359H149.61V360.23H150.41V359.56H151.21V358.7H152.01V360.06H152.81V359.54H153.61V358.31H154.41V358.97H155.21V358.63H156.01V358.04H156.81V358.91H157.61V358.58H158.41V357.76H159.21V358.3H160.01V357.28H160.81V359.37H161.61V358.72H162.41V358.64H163.21V355.95H164.01V357.5H164.81V356.62H165.61V357.36H166.41V356.78H167.21V356.55H168.01V355.54H168.81V357.07H169.61V354.57H170.41V357.15H171.21V354.84H172.01V355.34H172.81V355.58H173.61V356H174.41V352.57H175.21V351.91H176.01V352.86H176.81V351.09H177.61V350.48H178.41V352.37H179.21V348.42H180.01V348.58H180.81V344.03H181.61V346.8H182.41V344.23H183.21V341.43H184.01V340.71H184.81V336.03H185.61V334.06H186.41V335.77H187.21V334.66H188.01V330.12H188.81V332.63H189.61V329.2H190.41V335.42H191.21V332.45H192.01V336.65H192.81V333.74H193.61V335.89H194.41V345.13H195.21V342.54H196.01V344.94H196.81V349.81H197.61V350.54H198.41V352.42H199.21V354.36H200.01V355.66H200.81V358.61H201.61V360.11H202.41V360.11H203.21V361.75Z" fill="#525252" stroke="#2a2a2a" stroke-width="0.7" stroke-linejoin="round"/>
<path d="M80.94,304.85H203.44V366.75M87.94,304.85V366.75M80.94,361.75H203.44M84.44,333.3H87.94" fill="none" stroke="#141414" stroke-width="1.25"/>
<path d="M126.24,322.05V313.15H203.44" fill="none" stroke="#141414" stroke-width="1.45"/>
<path d="M96.63,361.75v3M101.72,361.75v3M105.33,361.75v3M108.12,361.75v3M110.41,361.75v3M112.34,361.75v3M114.02,361.75v3M115.49,361.75v3M116.82,361.75v5M125.51,361.75v3M130.59,361.75v3M134.2,361.75v3M137,361.75v3M139.29,361.75v3M141.22,361.75v3M142.89,361.75v3M144.37,361.75v3M145.69,361.75v5M154.38,361.75v3M159.47,361.75v3M163.08,361.75v3M165.87,361.75v3M168.16,361.75v3M170.09,361.75v3M171.77,361.75v3M173.24,361.75v3M174.57,361.75v5M183.26,361.75v3M188.34,361.75v3M191.95,361.75v3M194.75,361.75v3M197.04,361.75v3M198.97,361.75v3M200.64,361.75v3M202.12,361.75v3" stroke="#141414" stroke-width="1" fill="none"/>
<text x="88.14" y="375.3" font-family='"Liberation Sans", sans-serif' font-size="9.8" text-anchor="end" textLength="12.4" lengthAdjust="spacingAndGlyphs" fill="#000" stroke="#000" stroke-width="0.22">10</text>
<text x="88.44" y="373.05" font-family='"Liberation Sans", sans-serif' font-size="7.0" text-anchor="start" textLength="4.9" lengthAdjust="spacingAndGlyphs" fill="#000" stroke="#000" stroke-width="0.22">0</text>
<text x="117.02" y="375.3" font-family='"Liberation Sans", sans-serif' font-size="9.8" text-anchor="end" textLength="12.4" lengthAdjust="spacingAndGlyphs" fill="#000" stroke="#000" stroke-width="0.22">10</text>
<text x="117.32" y="373.05" font-family='"Liberation Sans", sans-serif' font-size="7.0" text-anchor="start" textLength="3.4" lengthAdjust="spacingAndGlyphs" fill="#000" stroke="#000" stroke-width="0.22">1</text>
<text x="145.89" y="375.3" font-family='"Liberation Sans", sans-serif' font-size="9.8" text-anchor="end" textLength="12.4" lengthAdjust="spacingAndGlyphs" fill="#000" stroke="#000" stroke-width="0.22">10</text>
<text x="146.19" y="373.05" font-family='"Liberation Sans", sans-serif' font-size="7.0" text-anchor="start" textLength="4.9" lengthAdjust="spacingAndGlyphs" fill="#000" stroke="#000" stroke-width="0.22">2</text>
<text x="174.77" y="375.3" font-family='"Liberation Sans", sans-serif' font-size="9.8" text-anchor="end" textLength="12.4" lengthAdjust="spacingAndGlyphs" fill="#000" stroke="#000" stroke-width="0.22">10</text>
<text x="175.07" y="373.05" font-family='"Liberation Sans", sans-serif' font-size="7.0" text-anchor="start" textLength="4.9" lengthAdjust="spacingAndGlyphs" fill="#000" stroke="#000" stroke-width="0.22">3</text>
<text x="203.64" y="375.3" font-family='"Liberation Sans", sans-serif' font-size="9.8" text-anchor="end" textLength="12.4" lengthAdjust="spacingAndGlyphs" fill="#000" stroke="#000" stroke-width="0.22">10</text>
<text x="203.94" y="373.05" font-family='"Liberation Sans", sans-serif' font-size="7.0" text-anchor="start" textLength="4.9" lengthAdjust="spacingAndGlyphs" fill="#000" stroke="#000" stroke-width="0.22">4</text>
<text x="80.04" y="309.05" font-family='"Liberation Sans", sans-serif' font-size="9.6" text-anchor="end" textLength="18.3" lengthAdjust="spacingAndGlyphs" fill="#000" stroke="#000" stroke-width="0.22">141</text>
<text x="80.54" y="365.55" font-family='"Liberation Sans", sans-serif' font-size="9.8" text-anchor="end" textLength="6.5" lengthAdjust="spacingAndGlyphs" fill="#000" stroke="#000" stroke-width="0.22">0</text>
<text x="127.8" y="301.5" font-family='"Liberation Serif", serif' font-weight="bold" font-size="21" stroke="#000" stroke-width="0.3" fill="#000">0.25</text>
<path d="M243.92,362.07V355.87H244.72V356.33H245.52V355.36H246.32V357.5H247.12V357.09H247.92V355.27H248.72V355.17H249.52V355.16H250.32V351.76H251.12V352.17H251.92V351.85H252.72V347.48H253.52V350.04H254.32V347.1H255.12V346.96H255.92V343.64H256.72V341.53H257.52V343.09H258.32V340.31H259.12V338.88H259.92V346.51H260.72V346.72H261.52V348.99H262.32V345.93H263.12V349.3H263.92V349.44H264.72V350.67H265.52V351.98H266.32V355.27H267.12V354.47H267.92V356.76H268.72V358.33H269.52V357.93H270.32V359.83H271.12V360.54H271.92V360.02H272.72V359.83H273.52V360.41H274.32V360.41H275.12V360.56H275.92V361.13H276.72V360.87H277.52V359.98H278.32V360.74H279.12V361.16H279.92V360.53H280.72V360.58H281.52V361.03H282.32V360.69H283.12V360.91H283.92V360.67H284.72V361.48H285.52V361.02H286.32V361.56H287.12V360.67H287.92V359.41H288.72V360.53H289.52V360.7H290.32V360.65H291.12V361.37H291.92V361.17H292.72V361.74H293.52V359.81H294.32V360.87H295.12V360.79H295.92V361.01H296.72V361.23H297.52V360.59H298.32V361.49H299.12V361.37H299.92V361.26H300.72V361.25H301.52V360.71H302.32V360.82H303.12V361.14H303.92V360.3H304.72V360.97H305.52V361.61H306.32V361.01H307.12V361.08H307.92V360.84H308.72V360.7H309.52V360.78H310.32V360.66H311.12V360.37H311.92V360.33H312.72V360.79H313.52V360.45H314.32V360.54H315.12V359.87H315.92V359.24H316.72V360.88H317.52V360.02H318.32V359.77H319.12V360.73H319.92V360.49H320.72V358.76H321.52V359.74H322.32V359.86H323.12V358.17H323.92V359.48H324.72V358.84H325.52V356.69H326.32V355.6H327.12V355.53H327.92V356.67H328.72V355.86H329.52V354.15H330.32V351.04H331.12V347.83H331.92V346.55H332.72V345.29H333.52V342.31H334.32V338.43H335.12V338.46H335.92V338.07H336.72V338.2H337.52V334.54H338.32V338.47H339.12V329.35H339.92V332.9H340.72V333.19H341.52V329.35H342.32V334.51H343.12V335.45H343.92V331.72H344.72V333.2H345.52V338.97H346.32V342.46H347.12V338.91H347.92V343.98H348.72V344.86H349.52V347.84H350.32V362.07Z" fill="#525252" stroke="#2a2a2a" stroke-width="0.7" stroke-linejoin="round"/>
<path d="M228.04,305.17H350.54V367.07M235.04,305.17V367.07M228.04,362.07H350.54M231.54,333.62H235.04" fill="none" stroke="#141414" stroke-width="1.25"/>
<path d="M273.34,322.37V313.47H350.54" fill="none" stroke="#141414" stroke-width="1.45"/>
<path d="M243.73,362.07v3M248.82,362.07v3M252.43,362.07v3M255.22,362.07v3M257.51,362.07v3M259.44,362.07v3M261.12,362.07v3M262.59,362.07v3M263.92,362.07v5M272.61,362.07v3M277.69,362.07v3M281.3,362.07v3M284.1,362.07v3M286.39,362.07v3M288.32,362.07v3M289.99,362.07v3M291.47,362.07v3M292.79,362.07v5M301.48,362.07v3M306.57,362.07v3M310.18,362.07v3M312.97,362.07v3M315.26,362.07v3M317.19,362.07v3M318.87,362.07v3M320.34,362.07v3M321.67,362.07v5M330.36,362.07v3M335.44,362.07v3M339.05,362.07v3M341.85,362.07v3M344.14,362.07v3M346.07,362.07v3M347.74,362.07v3M349.22,362.07v3" stroke="#141414" stroke-width="1" fill="none"/>
<text x="235.24" y="375.62" font-family='"Liberation Sans", sans-serif' font-size="9.8" text-anchor="end" textLength="12.4" lengthAdjust="spacingAndGlyphs" fill="#000" stroke="#000" stroke-width="0.22">10</text>
<text x="235.54" y="373.37" font-family='"Liberation Sans", sans-serif' font-size="7.0" text-anchor="start" textLength="4.9" lengthAdjust="spacingAndGlyphs" fill="#000" stroke="#000" stroke-width="0.22">0</text>
<text x="264.12" y="375.62" font-family='"Liberation Sans", sans-serif' font-size="9.8" text-anchor="end" textLength="12.4" lengthAdjust="spacingAndGlyphs" fill="#000" stroke="#000" stroke-width="0.22">10</text>
<text x="264.42" y="373.37" font-family='"Liberation Sans", sans-serif' font-size="7.0" text-anchor="start" textLength="3.4" lengthAdjust="spacingAndGlyphs" fill="#000" stroke="#000" stroke-width="0.22">1</text>
<text x="292.99" y="375.62" font-family='"Liberation Sans", sans-serif' font-size="9.8" text-anchor="end" textLength="12.4" lengthAdjust="spacingAndGlyphs" fill="#000" stroke="#000" stroke-width="0.22">10</text>
<text x="293.29" y="373.37" font-family='"Liberation Sans", sans-serif' font-size="7.0" text-anchor="start" textLength="4.9" lengthAdjust="spacingAndGlyphs" fill="#000" stroke="#000" stroke-width="0.22">2</text>
<text x="321.87" y="375.62" font-family='"Liberation Sans", sans-serif' font-size="9.8" text-anchor="end" textLength="12.4" lengthAdjust="spacingAndGlyphs" fill="#000" stroke="#000" stroke-width="0.22">10</text>
<text x="322.17" y="373.37" font-family='"Liberation Sans", sans-serif' font-size="7.0" text-anchor="start" textLength="4.9" lengthAdjust="spacingAndGlyphs" fill="#000" stroke="#000" stroke-width="0.22">3</text>
<text x="350.74" y="375.62" font-family='"Liberation Sans", sans-serif' font-size="9.8" text-anchor="end" textLength="12.4" lengthAdjust="spacingAndGlyphs" fill="#000" stroke="#000" stroke-width="0.22">10</text>
<text x="351.04" y="373.37" font-family='"Liberation Sans", sans-serif' font-size="7.0" text-anchor="start" textLength="4.9" lengthAdjust="spacingAndGlyphs" fill="#000" stroke="#000" stroke-width="0.22">4</text>
<text x="227.14" y="309.37" font-family='"Liberation Sans", sans-serif' font-size="9.6" text-anchor="end" textLength="18.3" lengthAdjust="spacingAndGlyphs" fill="#000" stroke="#000" stroke-width="0.22">145</text>
<text x="227.64" y="365.87" font-family='"Liberation Sans", sans-serif' font-size="9.8" text-anchor="end" textLength="6.5" lengthAdjust="spacingAndGlyphs" fill="#000" stroke="#000" stroke-width="0.22">0</text>
<text x="275.7" y="301.5" font-family='"Liberation Serif", serif' font-weight="bold" font-size="21" stroke="#000" stroke-width="0.3" fill="#000">0.5</text>
<path d="M389.92,362.39V356.77H390.72V354.73H391.52V355.8H392.32V355.4H393.12V355.54H393.92V352.36H394.72V354.3H395.52V352.64H396.32V353.1H397.12V350.77H397.92V349.86H398.72V347.77H399.52V347.74H400.32V349.04H401.12V345.39H401.92V341.92H402.72V343.63H403.52V342.38H404.32V341.04H405.12V342.52H405.92V344.46H406.72V346.64H407.52V347.46H408.32V346.54H409.12V348.16H409.92V349.34H410.72V352.89H411.52V352.4H412.32V356.38H413.12V355.96H413.92V357.27H414.72V357.97H415.52V357.91H416.32V360.07H417.12V360.43H417.92V361.21H418.72V361.1H419.52V361.11H420.32V361.53H421.12V360.52H421.92V360.76H422.72V361.2H423.52V360.78H424.32V361.18H425.12V361.02H425.92V361.56H426.72V360.91H427.52V361.48H428.32V361.42H429.12V361.31H429.92V361.61H430.72V361.12H431.52V361.72H432.32V361.62H433.12V361.64H433.92V361.67H434.72V361.69H435.52V361.71H436.32V361.73H437.12V361.73H437.92V361.72H438.72V361.71H439.52V361.7H440.32V361.69H441.12V361.68H441.92V361.67H442.72V361.66H443.52V361.65H444.32V361.64H445.12V361.63H445.92V361.62H446.72V361.61H447.52V361.47H448.32V360.99H449.12V360.69H449.92V361.84H450.72V361.65H451.52V361.25H452.32V361.57H453.12V361.14H453.92V360.71H454.72V361.29H455.52V361.15H456.32V360.72H457.12V361.16H457.92V361.09H458.72V361.87H459.52V361.14H460.32V360.8H461.12V361.62H461.92V360.88H462.72V360.93H463.52V361.1H464.32V359.33H465.12V361.04H465.92V359.96H466.72V360.54H467.52V358.9H468.32V360.2H469.12V358.97H469.92V359.52H470.72V359.86H471.52V358.76H472.32V357.49H473.12V355.68H473.92V356.01H474.72V355.38H475.52V354.17H476.32V353.11H477.12V352.89H477.92V349.99H478.72V348.05H479.52V344.9H480.32V346.33H481.12V340.95H481.92V342.37H482.72V339.97H483.52V334.64H484.32V334.6H485.12V331.57H485.92V328.97H486.72V329.19H487.52V332.8H488.32V326.11H489.12V333.19H489.92V337.11H490.72V335.64H491.52V335.03H492.32V336.42H493.12V343.84H493.92V345.83H494.72V344.85H495.52V351.23H496.32V362.39Z" fill="#525252" stroke="#2a2a2a" stroke-width="0.7" stroke-linejoin="round"/>
<path d="M373.64,305.49H496.14V367.39M380.64,305.49V367.39M373.64,362.39H496.14M377.14,333.94H380.64" fill="none" stroke="#141414" stroke-width="1.25"/>
<path d="M418.94,322.69V313.79H496.14" fill="none" stroke="#141414" stroke-width="1.45"/>
<path d="M389.33,362.39v3M394.42,362.39v3M398.03,362.39v3M400.82,362.39v3M403.11,362.39v3M405.04,362.39v3M406.72,362.39v3M408.19,362.39v3M409.52,362.39v5M418.21,362.39v3M423.29,362.39v3M426.9,362.39v3M429.7,362.39v3M431.99,362.39v3M433.92,362.39v3M435.59,362.39v3M437.07,362.39v3M438.39,362.39v5M447.08,362.39v3M452.17,362.39v3M455.78,362.39v3M458.57,362.39v3M460.86,362.39v3M462.79,362.39v3M464.47,362.39v3M465.94,362.39v3M467.27,362.39v5M475.96,362.39v3M481.04,362.39v3M484.65,362.39v3M487.45,362.39v3M489.74,362.39v3M491.67,362.39v3M493.34,362.39v3M494.82,362.39v3" stroke="#141414" stroke-width="1" fill="none"/>
<text x="380.84" y="375.94" font-family='"Liberation Sans", sans-serif' font-size="9.8" text-anchor="end" textLength="12.4" lengthAdjust="spacingAndGlyphs" fill="#000" stroke="#000" stroke-width="0.22">10</text>
<text x="381.14" y="373.69" font-family='"Liberation Sans", sans-serif' font-size="7.0" text-anchor="start" textLength="4.9" lengthAdjust="spacingAndGlyphs" fill="#000" stroke="#000" stroke-width="0.22">0</text>
<text x="409.72" y="375.94" font-family='"Liberation Sans", sans-serif' font-size="9.8" text-anchor="end" textLength="12.4" lengthAdjust="spacingAndGlyphs" fill="#000" stroke="#000" stroke-width="0.22">10</text>
<text x="410.02" y="373.69" font-family='"Liberation Sans", sans-serif' font-size="7.0" text-anchor="start" textLength="3.4" lengthAdjust="spacingAndGlyphs" fill="#000" stroke="#000" stroke-width="0.22">1</text>
<text x="438.59" y="375.94" font-family='"Liberation Sans", sans-serif' font-size="9.8" text-anchor="end" textLength="12.4" lengthAdjust="spacingAndGlyphs" fill="#000" stroke="#000" stroke-width="0.22">10</text>
<text x="438.89" y="373.69" font-family='"Liberation Sans", sans-serif' font-size="7.0" text-anchor="start" textLength="4.9" lengthAdjust="spacingAndGlyphs" fill="#000" stroke="#000" stroke-width="0.22">2</text>
<text x="467.47" y="375.94" font-family='"Liberation Sans", sans-serif' font-size="9.8" text-anchor="end" textLength="12.4" lengthAdjust="spacingAndGlyphs" fill="#000" stroke="#000" stroke-width="0.22">10</text>
<text x="467.77" y="373.69" font-family='"Liberation Sans", sans-serif' font-size="7.0" text-anchor="start" textLength="4.9" lengthAdjust="spacingAndGlyphs" fill="#000" stroke="#000" stroke-width="0.22">3</text>
<text x="496.34" y="375.94" font-family='"Liberation Sans", sans-serif' font-size="9.8" text-anchor="end" textLength="12.4" lengthAdjust="spacingAndGlyphs" fill="#000" stroke="#000" stroke-width="0.22">10</text>
<text x="496.64" y="373.69" font-family='"Liberation Sans", sans-serif' font-size="7.0" text-anchor="start" textLength="4.9" lengthAdjust="spacingAndGlyphs" fill="#000" stroke="#000" stroke-width="0.22">4</text>
<text x="372.74" y="309.69" font-family='"Liberation Sans", sans-serif' font-size="9.6" text-anchor="end" textLength="18.3" lengthAdjust="spacingAndGlyphs" fill="#000" stroke="#000" stroke-width="0.22">142</text>
<text x="373.24" y="366.19" font-family='"Liberation Sans", sans-serif' font-size="9.8" text-anchor="end" textLength="6.5" lengthAdjust="spacingAndGlyphs" fill="#000" stroke="#000" stroke-width="0.22">0</text>
<text x="420" y="301.5" font-family='"Liberation Serif", serif' font-weight="bold" font-size="21" stroke="#000" stroke-width="0.3" fill="#000">1.0</text>
<text x="1.7" y="23.7" font-family='"Liberation Sans", sans-serif' font-weight="bold" font-size="31" stroke="#000" stroke-width="0.5" fill="#000">A</text>
<text x="-0.6" y="410.3" font-family='"Liberation Sans", sans-serif' font-weight="bold" font-size="32" stroke="#000" stroke-width="0.5" fill="#000">B</text>
<text x="3" y="106.6" font-family='"Liberation Serif", serif' font-weight="bold" font-size="21" stroke="#000" stroke-width="0.3" fill="#000">U7.623</text>
<text x="2.4" y="297.9" font-family='"Liberation Serif", serif' font-weight="bold" font-size="21" stroke="#000" stroke-width="0.3" fill="#000">U7.324</text>
<path d="M85.5,564.64H505M85.5,530.08H505M85.5,495.52H505M85.5,460.96H505M85.5,426.4H505M85.5,391.84H89.5M85.5,599.2H89.5" stroke="#141414" stroke-width="1.25" fill="none"/>
<path d="M89.5,391.84V599.2" stroke="#141414" stroke-width="1.2" fill="none"/>
<text x="80.5" y="601.9" font-family='"Liberation Sans", sans-serif' font-size="7.5" text-anchor="end" textLength="5.8" lengthAdjust="spacingAndGlyphs" fill="#000" stroke="#000" stroke-width="0.3">0</text>
<text x="80.5" y="567.34" font-family='"Liberation Sans", sans-serif' font-size="7.5" text-anchor="end" textLength="17" lengthAdjust="spacingAndGlyphs" fill="#000" stroke="#000" stroke-width="0.3">500</text>
<text x="80.5" y="532.78" font-family='"Liberation Sans", sans-serif' font-size="7.5" text-anchor="end" textLength="23" lengthAdjust="spacingAndGlyphs" fill="#000" stroke="#000" stroke-width="0.3">1000</text>
<text x="80.5" y="498.22" font-family='"Liberation Sans", sans-serif' font-size="7.5" text-anchor="end" textLength="23" lengthAdjust="spacingAndGlyphs" fill="#000" stroke="#000" stroke-width="0.3">1500</text>
<text x="80.5" y="463.66" font-family='"Liberation Sans", sans-serif' font-size="7.5" text-anchor="end" textLength="23" lengthAdjust="spacingAndGlyphs" fill="#000" stroke="#000" stroke-width="0.3">2000</text>
<text x="80.5" y="429.1" font-family='"Liberation Sans", sans-serif' font-size="7.5" text-anchor="end" textLength="23" lengthAdjust="spacingAndGlyphs" fill="#000" stroke="#000" stroke-width="0.3">2500</text>
<text x="80.5" y="394.54" font-family='"Liberation Sans", sans-serif' font-size="7.5" text-anchor="end" textLength="23" lengthAdjust="spacingAndGlyphs" fill="#000" stroke="#000" stroke-width="0.3">3000</text>
<text x="89.5" y="612.7" font-family='"Liberation Sans", sans-serif' font-size="7.5" text-anchor="middle" textLength="5.5" lengthAdjust="spacingAndGlyphs" fill="#000" stroke="#000" stroke-width="0.3">0</text>
<text x="158.62" y="612.7" font-family='"Liberation Sans", sans-serif' font-size="7.5" text-anchor="middle" textLength="13.5" lengthAdjust="spacingAndGlyphs" fill="#000" stroke="#000" stroke-width="0.3">0.2</text>
<text x="227.74" y="612.7" font-family='"Liberation Sans", sans-serif' font-size="7.5" text-anchor="middle" textLength="13.5" lengthAdjust="spacingAndGlyphs" fill="#000" stroke="#000" stroke-width="0.3">0.4</text>
<text x="296.86" y="612.7" font-family='"Liberation Sans", sans-serif' font-size="7.5" text-anchor="middle" textLength="13.5" lengthAdjust="spacingAndGlyphs" fill="#000" stroke="#000" stroke-width="0.3">0.6</text>
<text x="365.98" y="612.7" font-family='"Liberation Sans", sans-serif' font-size="7.5" text-anchor="middle" textLength="13.5" lengthAdjust="spacingAndGlyphs" fill="#000" stroke="#000" stroke-width="0.3">0.8</text>
<text x="435.1" y="612.7" font-family='"Liberation Sans", sans-serif' font-size="7.5" text-anchor="middle" textLength="5.5" lengthAdjust="spacingAndGlyphs" fill="#000" stroke="#000" stroke-width="0.3">1</text>
<text x="504.22" y="612.7" font-family='"Liberation Sans", sans-serif' font-size="7.5" text-anchor="middle" textLength="13.5" lengthAdjust="spacingAndGlyphs" fill="#000" stroke="#000" stroke-width="0.3">1.2</text>
<path d="M89.5,599.2v3.2M158.62,599.2v3.2M227.74,599.2v3.2M296.86,599.2v3.2M365.98,599.2v3.2M435.1,599.2v3.2M504.22,599.2v3.2" stroke="#141414" stroke-width="0.9" fill="none"/>
<path d="M89.5,599.2H505" stroke="#141414" stroke-width="1" fill="none"/>
<path d="M89.5,599.2H262.3" stroke="#141414" stroke-width="2.3" fill="none"/>
<path d="M262.3,599.2H435.1" stroke="#141414" stroke-width="1.8" fill="none"/>
<circle cx="89.5" cy="599.2" r="2.3" fill="#141414"/>
<circle cx="106.78" cy="599.2" r="2.3" fill="#141414"/>
<circle cx="124.06" cy="599.2" r="2.3" fill="#141414"/>
<circle cx="175.9" cy="599.2" r="2.3" fill="#141414"/>
<circle cx="262.3" cy="599.2" r="1.4" fill="#141414"/>
<path d="M432.3,599.2l2.8,-3l2.8,3l-2.8,3z" fill="#141414"/>
<path d="M89.5,599.2L106.78,579.64L124.06,557.31L175.9,517.43L262.3,455.57L435.1,438.91" stroke="#141414" stroke-width="1.25" fill="none"/>
<path d="M106.78,576.84v5.6M104.78,576.84h4M104.78,582.44h4M124.06,554.51v5.6M122.06,554.51h4M122.06,560.11h4M175.9,514.63v5.6M173.9,514.63h4M173.9,520.23h4M262.3,452.77v5.6M260.3,452.77h4M260.3,458.37h4M435.1,436.11v5.6M433.1,436.11h4M433.1,441.71h4" stroke="#141414" stroke-width="1" fill="none"/>
<path d="M89.5,599.2L106.78,555.52L124.06,526L175.9,478.59L262.3,431.72" stroke="#141414" stroke-width="2.3" stroke-dasharray="4,5" fill="none"/>
<path d="M262.3,431.72L435.1,418.31" stroke="#141414" stroke-width="1.8" stroke-dasharray="4.4,5.4" stroke-dashoffset="-5" fill="none"/>
<path d="M85,594.7l9,9M85,603.7l9,-9M101.78,551.52l10,8M101.78,559.52l10,-8M106.78,551.92v7.2M104.18,551.92h5.2M104.18,559.12h5.2M103.78,555.52h6M119.06,522l10,8M119.06,530l10,-8M124.06,522.4v7.2M121.46,522.4h5.2M121.46,529.6h5.2M121.06,526h6M170.9,474.59l10,8M170.9,482.59l10,-8M175.9,474.99v7.2M173.3,474.99h5.2M173.3,482.19h5.2M172.9,478.59h6M257.3,427.72l10,8M257.3,435.72l10,-8M262.3,428.12v7.2M259.7,428.12h5.2M259.7,435.32h5.2M259.3,431.72h6M430.5,414.51l9.2,7.6M430.5,422.11l9.2,-7.6M435.1,413.91v8.8M429.5,418.31h11.2" stroke="#141414" stroke-width="1.05" fill="none"/>
<text x="448" y="424.5" font-family='"Liberation Serif", serif' font-weight="bold" font-size="21" stroke="#000" stroke-width="0.3" fill="#000">U7.623</text>
<text x="448" y="450.5" font-family='"Liberation Serif", serif' font-weight="bold" font-size="21" stroke="#000" stroke-width="0.3" fill="#000">U7.324</text>
<text x="414" y="596.2" font-family='"Liberation Serif", serif' font-weight="bold" font-size="21" stroke="#000" stroke-width="0.3" fill="#000">U7.SmOPT</text>
<text x="131.5" y="638.4" font-family='"Liberation Serif", serif' font-weight="bold" font-size="21.4" stroke="#000" stroke-width="0.3" fill="#000" textLength="332.5" lengthAdjust="spacingAndGlyphs">Concentration DNA transfected (μg)</text>
<text transform="translate(42.8,578.6) rotate(-90)" font-family='"Liberation Serif", serif' font-weight="bold" font-size="21.4" stroke="#000" stroke-width="0.3" fill="#000" textLength="178" lengthAdjust="spacingAndGlyphs">Fluorescence Index</text>
</g>
</svg>
</body></html>
